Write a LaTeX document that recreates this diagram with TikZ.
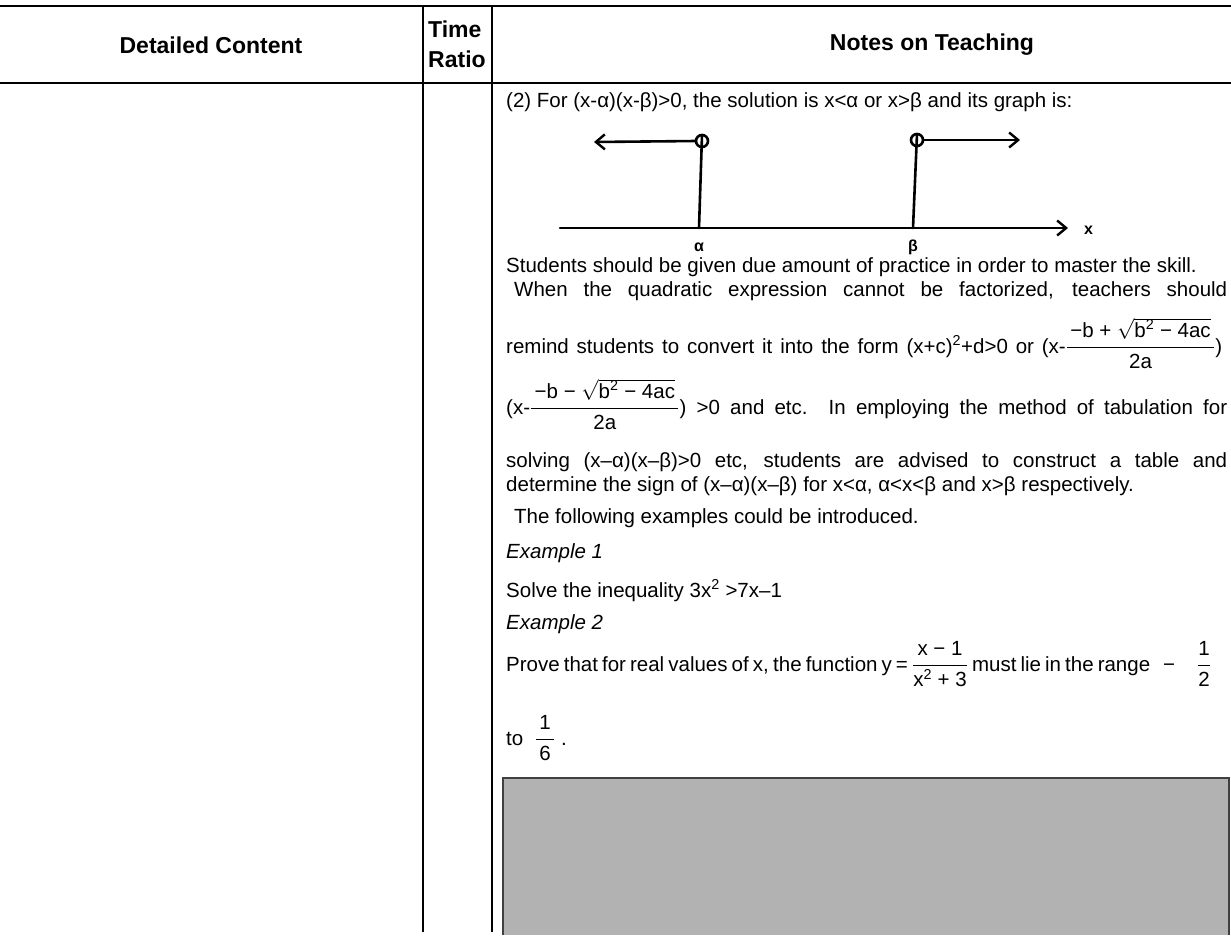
\documentclass[tikz,border=0pt]{standalone}
\usepackage{amsmath}
\usepackage{fontspec}
\setmainfont{Liberation Sans}
\usetikzlibrary{arrows.meta}
\newcommand{\fr}[2]{\ensuremath{\dfrac{\raisebox{1.5pt}{\,#1\,}}{\raisebox{-1.5pt}{\,#2\,}}}}
\newcommand{\frn}[2]{\ensuremath{\dfrac{\raisebox{1.5pt}{#1}}{\raisebox{-1.5pt}{#2}}}}
\newcommand{\rt}[1]{\ensuremath{\sqrt{\hbox{#1}}}}
\newcommand{\sq}{\textsuperscript{2}}

\begin{document}
\begin{tikzpicture}[x=1pt,y=-1pt,
  rule/.style={line width=2.5pt},
  vrule/.style={line width=2pt},
  hdr/.style={font=\fontsize{23}{30}\selectfont\bfseries,inner sep=0pt},
  txt/.style={font=\fontsize{20.5}{24}\selectfont,anchor=base west,inner sep=0pt},
  pen/.style={line width=2.6pt,line cap=round},
  tip/.style={-{Straight Barb[length=9pt,width=15pt,line width=2.4pt]}},
  lbl/.style={font=\fontsize{16}{16}\selectfont\bfseries,inner sep=0pt}]
\useasboundingbox (0,0) rectangle (1231,935);

\draw[rule] (0,6) -- (1231,6);
\draw[rule] (0,83) -- (1231,83);
\draw[vrule] (423,6) -- (423,932);
\draw[vrule] (492,6) -- (492,932);

\node[hdr] (hdc) at (211,45) {Detailed Content};
\node[hdr,anchor=west,align=left] (htr) at (428,44) {Time\\Ratio};
\node[hdr] (hnt) at (932,45) {Notes on Teaching};

\node[txt] (l1) at (506,107) {(2) For (x-α)(x-β)>0, the solution is x<α or x>β and its graph is:};

\coordinate (ca) at (702,141);
\coordinate (cb) at (917,140);
\coordinate (fa) at (699,228);
\coordinate (fb) at (913,228);
\coordinate (ea) at (594,142);
\coordinate (eb) at (1020,140);
\coordinate (x0) at (560,228);
\coordinate (x1) at (1068,228);
\draw[pen] (ca) circle (6);
\draw[pen] (cb) circle (6);
\draw[pen] ([yshift=6pt]ca) -- (fa);
\draw[pen] ([yshift=6pt]cb) -- (fb);
\draw[pen,tip] ([xshift=-6pt]ca) -- (ea);
\draw[pen,tip] ([xshift=6pt]cb) -- (eb);
\draw[pen,tip] (x0) -- (x1);
\node[lbl,anchor=west] (xl) at (1084,230) {x};
\node[lbl] (al) at (699,247) {α};
\node[lbl] (bl) at (913,247) {β};

\node[txt] (l2) at (506,272) {Students should be given due amount of practice in order to master the skill.};
\node[txt] (l3) at (514,296) {\makebox[713pt][s]{When the quadratic expression cannot be factorized, teachers should}};
\node[txt] (l4) at (506,353) {\makebox[716pt][s]{remind students to convert it into the form (x+c)\sq+d>0 or (x-\fr{−b + \rt{b\smash{\sq}\ − 4ac}}{2a})}};
\node[txt] (l5) at (506,414) {\makebox[721pt][s]{(x-\fr{−b − \rt{b\smash{\sq}\ − 4ac}}{2a}) >0 and etc. In employing the method of tabulation for}};
\node[txt] (l6) at (506,467) {\makebox[721pt][s]{solving (x–α)(x–β)>0 etc, students are advised to construct a table and}};
\node[txt] (l7) at (506,491) {determine the sign of (x–α)(x–β) for x<α, α<x<β and x>β respectively.};
\node[txt] (l8) at (514,523) {The following examples could be introduced.};
\node[txt,font=\fontsize{20.5}{24}\selectfont\itshape] (l9) at (506,558) {Example 1};
\node[txt] (l10) at (506,597) {Solve the inequality 3x\sq\ >7x–1};
\node[txt,font=\fontsize{20.5}{24}\selectfont\itshape] (l11) at (506,629) {Example 2};
\node[txt] (l12) at (506,671) {\makebox[644pt][s]{Prove that for real values of x, the function y = \frn{x − 1}{x\sq\ + 3} must lie in the range}};
\node[txt] (l12b) at (1163,671) {−\hspace{22pt}\frn{1}{2}};
\node[txt] (l13) at (506,745) {to \ \fr{1}{6} .};

\fill[black!30] (503,778) rectangle (1229,935);
\draw[line width=1.5pt,black!75] (503,935) -- (503,778) -- (1229,778) -- (1229,935);
\end{tikzpicture}
\end{document}
